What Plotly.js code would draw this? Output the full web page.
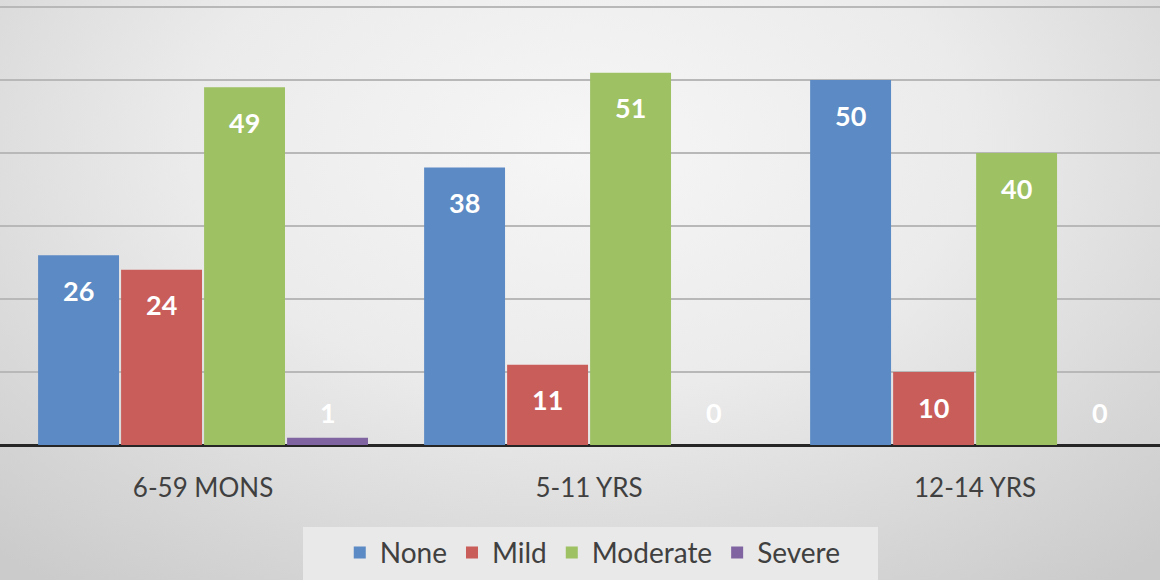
<!DOCTYPE html>
<html>
<head>
<meta charset="utf-8">
<script src="https://cdn.plot.ly/plotly-3.0.1.min.js"></script>
<style>
  html, body { margin: 0; padding: 0; }
  #chart {
    width: 1160px; height: 580px;
    background: radial-gradient(ellipse 75% 95% at 50% 25%, #f6f6f6 0%, #ebebeb 45%, #d6d6d6 80%, #cbcbcb 100%);
  }
</style>
</head>
<body>
<div id="chart"></div>
<script>
const categories = ["6-59 MONS", "5-11 YRS", "12-14 YRS"];
const seriesNames = ["None", "Mild", "Moderate", "Severe"];
const none = [26, 38, 50];
const mild = [24, 11, 10];
const moderate = [49, 51, 40];
const severe = [1, 0, 0];

const seriesValues = [none, mild, moderate, severe];
const colors = ["#5b8ac4", "#c95d5a", "#9ec163", "#8064a2"];

const traces = seriesValues.map((vals, i) => ({
  type: "bar",
  name: seriesNames[i],
  x: categories,
  y: vals,
  marker: { color: colors[i], line: { width: 0 } },
  hoverinfo: "skip"
}));

const slot = 0.86 / 4;
const annotations = [];
seriesValues.forEach((vals, i) => {
  const off = -0.43 + slot * (i + 0.5);
  vals.forEach((v, j) => {
    annotations.push({
      x: j + off, xref: "x",
      y: Math.max(v, 9.3), yref: "y",
      yshift: -35,
      text: String(v),
      showarrow: false,
      font: { family: "Lato, 'Open Sans', sans-serif", size: 27, color: "#ffffff", weight: "bold" }
    });
  });
});

const layout = {
  width: 1160, height: 580,
  margin: { l: 0, r: 0, t: 0, b: 135 },
  paper_bgcolor: "rgba(0,0,0,0)",
  plot_bgcolor: "rgba(0,0,0,0)",
  barmode: "group",
  bargap: 0.14,
  bargroupgap: 0.025,
  showlegend: true,
  legend: {
    orientation: "h",
    xref: "container", yref: "container",
    x: 0.511, xanchor: "center",
    y: 0.047, yanchor: "middle",
    font: { family: "Lato, 'Open Sans', sans-serif", size: 28, color: "#404040" },
    bgcolor: "rgba(0,0,0,0)",
    itemwidth: 30,
    itemclick: false
  },
  xaxis: {
    type: "category",
    range: [-0.526, 2.479],
    showgrid: false,
    showline: false,
    zeroline: false,
    ticks: "",
    tickfont: { family: "Lato, 'Open Sans', sans-serif", size: 26, color: "#404040" },
    ticklabelstandoff: 25
  },
  yaxis: {
    range: [0, 60.96],
    dtick: 10,
    showticklabels: false,
    showgrid: true,
    gridcolor: "#b8b8b8",
    gridwidth: 2,
    zeroline: true,
    zerolinecolor: "#262626",
    zerolinewidth: 3
  },
  shapes: [{
    type: "rect", xref: "paper", yref: "paper",
    x0: 303 / 1160, x1: 878 / 1160,
    y0: -135 / 445, y1: -82 / 445,
    fillcolor: "#e9e9e9", line: { width: 0 }, layer: "below"
  }],
  annotations: annotations
};

Plotly.newPlot("chart", traces, layout, { displayModeBar: false, staticPlot: true });
</script>
</body>
</html>
